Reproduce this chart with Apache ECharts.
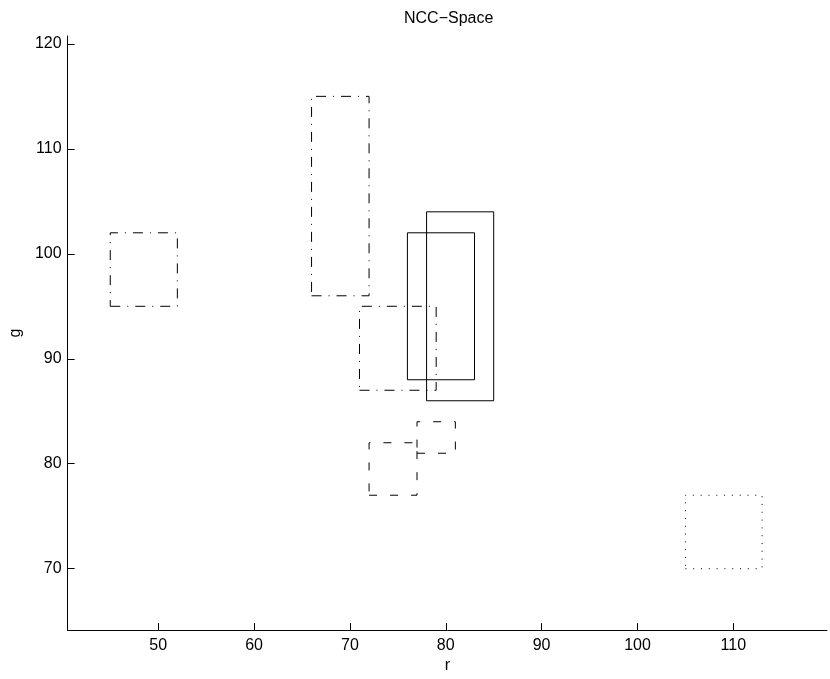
<!DOCTYPE html>
<html>
<head>
<meta charset="utf-8">
<script src="https://cdn.jsdelivr.net/npm/echarts@6/dist/echarts.min.js"></script>
<style>
html,body{margin:0;padding:0;background:#fff;}
#main{width:830px;height:679px;}
</style>
</head>
<body>
<div id="main"></div>
<script>
// Rectangles in NCC space (r range x g range)
const rMin = [45, 66, 71, 76, 78, 72, 77, 105];
const rMax = [52, 72, 79, 83, 85, 77, 81, 113];
const gMin = [95, 96, 87, 88, 86, 77, 81, 70];
const gMax = [102, 115, 95, 102, 104, 82, 84, 77];
const rectKinds = ['dashdot', 'dashdot', 'dashdot', 'solid', 'solid', 'dashed', 'dashed', 'dotted'];
const xTicks = [50, 60, 70, 80, 90, 100, 110];
const yTicks = [70, 80, 90, 100, 110, 120];

const dashMap = {
  solid: 'solid',
  dashdot: [10, 7, 1, 7],
  dashed: [8, 13],
  dotted: [1, 6.8]
};

const FONT = "'Liberation Sans', Arial, Helvetica, sans-serif";

const series = rMin.map(function (x1, i) {
  const x2 = rMax[i], y1 = gMin[i], y2 = gMax[i];
  return {
    type: 'line',
    data: [[x1, y1], [x2, y1], [x2, y2], [x1, y2], [x1, y1]],
    showSymbol: false,
    symbol: 'none',
    silent: true,
    animation: false,
    clip: false,
    lineStyle: { color: '#000', width: 1, type: dashMap[rectKinds[i]] }
  };
});

const chart = echarts.init(document.getElementById('main'), null, { renderer: 'canvas' });
chart.setOption({
  backgroundColor: '#fff',
  animation: false,
  title: {
    text: 'NCC\u2212Space',
    left: 399,
    top: 6,
    textStyle: { fontFamily: FONT, fontSize: 16, fontWeight: 'normal', color: '#000' }
  },
  grid: { left: 65, right: 3, top: 36, bottom: 43, containLabel: false },
  xAxis: {
    type: 'value',
    min: 40.55,
    max: 119.77,
    name: 'r',
    nameLocation: 'middle',
    nameGap: 25,
    nameTextStyle: { fontFamily: FONT, fontSize: 16, color: '#000' },
    splitLine: { show: false },
    axisLine: { show: true, onZero: false, lineStyle: { color: '#000', width: 1 } },
    axisTick: { show: true, inside: true, length: 7, customValues: xTicks, lineStyle: { color: '#000' } },
    axisLabel: { customValues: xTicks, margin: 7, fontFamily: FONT, fontSize: 16, color: '#000' }
  },
  yAxis: {
    type: 'value',
    min: 64.15,
    max: 120.75,
    name: 'g',
    nameLocation: 'middle',
    nameGap: 30,
    nameRotate: 90,
    nameTextStyle: { fontFamily: FONT, fontSize: 16, color: '#000' },
    splitLine: { show: false },
    axisLine: { show: true, onZero: false, lineStyle: { color: '#000', width: 1 } },
    axisTick: { show: true, inside: true, length: 7, customValues: yTicks, lineStyle: { color: '#000' } },
    axisLabel: { customValues: yTicks, margin: 6, fontFamily: FONT, fontSize: 16, color: '#000' }
  },
  series: series
});
</script>
</body>
</html>
